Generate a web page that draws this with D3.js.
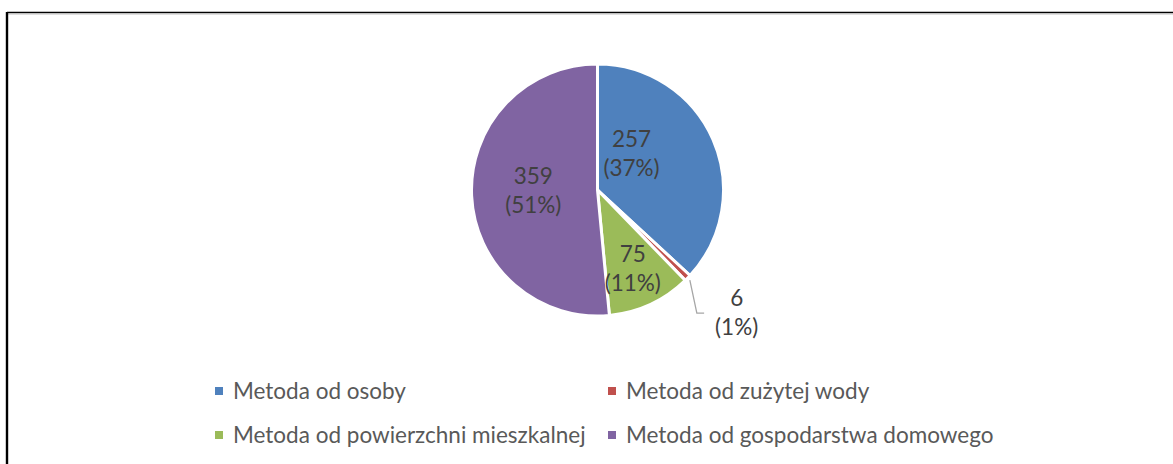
<!DOCTYPE html>
<html>
<head>
<meta charset="utf-8">
<script src="https://cdn.jsdelivr.net/npm/d3@7"></script>
<style>
    body { margin: 0; background: #fff; }
    text { font-family: Lato, "Open Sans", sans-serif; }
</style>
</head>
<body>
<script>
const categories = ['Metoda od osoby', 'Metoda od zużytej wody', 'Metoda od powierzchni mieszkalnej', 'Metoda od gospodarstwa domowego'];
const values = [257, 6, 75, 359];
const percentLabels = ['37%', '1%', '11%', '51%'];
const colors = ['#4f81bd', '#c0504d', '#9bbb59', '#8064a2'];

// where excel's "best fit" put each data label: [angle shift in degrees, radius as share of pie radius]
const labelSpots = [[-24, 0.40], [-3, 1.47], [0.5, 0.68], [3, 0.51]];

const width = 1173;
const height = 464;
const cx = 597.5;
const cy = 190;
const radius = 126;

const svg = d3.select('body')
    .append('svg')
    .attr('width', width)
    .attr('height', height);

// chart frame, cut off at right and bottom
svg.append('line').attr('x1', 7).attr('y1', 12.5).attr('x2', width).attr('y2', 12.5)
    .attr('stroke', '#000').attr('stroke-width', 1.6);
svg.append('line').attr('x1', 8).attr('y1', 14).attr('x2', width).attr('y2', 14)
    .attr('stroke', '#bfbfbf').attr('stroke-width', 1);
svg.append('line').attr('x1', 7).attr('y1', 12).attr('x2', 7).attr('y2', height)
    .attr('stroke', '#000').attr('stroke-width', 2.4);

const pie = d3.pie().sort(null).value((d) => d);
const arcs = pie(values);

const arc = d3.arc().innerRadius(0).outerRadius(radius);

const g = svg.append('g')
    .attr('transform', 'translate(' + cx + ',' + cy + ')');

g.selectAll('path')
    .data(arcs)
    .enter()
    .append('path')
    .attr('d', arc)
    .attr('fill', (d, i) => colors[i])
    .attr('stroke', '#fff')
    .attr('stroke-width', 3)
    .attr('stroke-linejoin', 'miter');

const polar = (angle, r) => [r * Math.sin(angle), -r * Math.cos(angle)];

arcs.forEach((d, i) => {
    const mid = (d.startAngle + d.endAngle) / 2;
    const spot = labelSpots[i];
    const [lx, ly] = polar(mid + spot[0] * Math.PI / 180, spot[1] * radius);
    const outside = spot[1] > 1;

    const label = g.append('text')
        .attr('text-anchor', 'middle')
        .attr('fill', '#404040')
        .style('font-size', '22.5px');
    label.append('tspan').attr('x', lx).attr('y', ly - 6).text(values[i]);
    label.append('tspan').attr('x', lx).attr('y', ly + 23).text('(' + percentLabels[i] + ')');

    if (outside) {
        const p0 = polar(mid, radius + 3);
        const half = label.node().getBBox().width / 2;
        const endY = ly + 1;
        const pts = [p0, [p0[0] + 7, endY], [lx - half - 11, endY]];
        g.append('path')
            .attr('d', d3.line()(pts))
            .attr('fill', 'none')
            .attr('stroke', '#a6a6a6')
            .attr('stroke-width', 1.3);
    }
});

// legend, two columns
const legendX = d3.scaleOrdinal().domain([0, 1]).range([215, 608]);
const legendY = d3.scaleOrdinal().domain([0, 1]).range([391, 435]);

const item = svg.selectAll('.legend')
    .data(categories)
    .enter()
    .append('g')
    .attr('class', 'legend')
    .attr('transform', (d, i) => 'translate(' + legendX(i % 2) + ',' + legendY(Math.floor(i / 2)) + ')');

item.append('rect')
    .attr('x', 0)
    .attr('y', -4)
    .attr('width', 8)
    .attr('height', 8)
    .attr('fill', (d, i) => colors[i]);

item.append('text')
    .attr('x', 18)
    .attr('y', 7.5)
    .attr('fill', '#595959')
    .style('font-size', '22.5px')
    .text((d) => d);
</script>
</body>
</html>
